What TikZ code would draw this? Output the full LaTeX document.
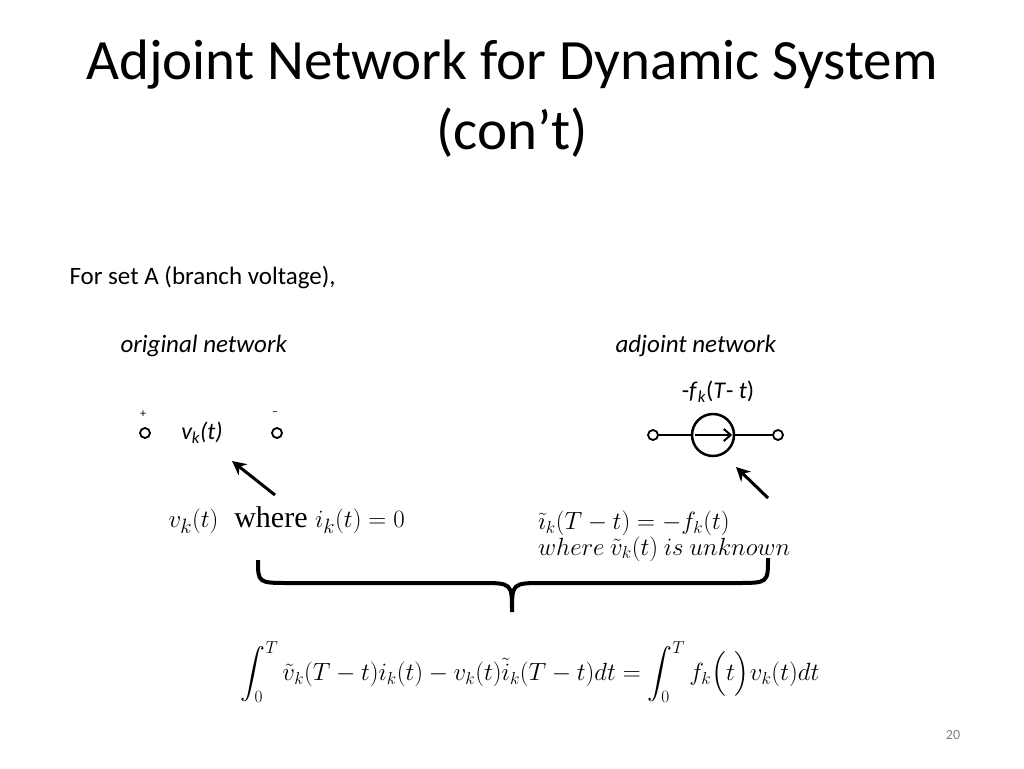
\documentclass[tikz,border=0pt]{standalone}
\usepackage{amsmath}
\usepackage{fontspec}
\usetikzlibrary{arrows.meta}
\setmainfont{Carlito}
\newfontfamily\tms{Liberation Serif}
\begin{document}
\begin{tikzpicture}[x=1pt,y=-1pt,
  term/.style={circle,draw,line width=1.8pt,inner sep=0pt,minimum size=10pt},
  pointer/.style={line width=3pt,-{Stealth[length=14pt,width=14pt]}}]
\useasboundingbox (0,0) rectangle (1024,768);
\node (t1) at (512,65) {\fontsize{57}{60}\selectfont Adjoint Network for Dynamic System};
\node (t2) at (512,133) {\fontsize{57}{60}\selectfont (con’t)};
\node[anchor=west] (s) at (66,278) {\fontsize{25}{28}\selectfont For set A (branch voltage),};
\node[anchor=west] (on) at (117,346) {\fontsize{25}{28}\selectfont\itshape original network};
\node[anchor=west] (an) at (612,346) {\fontsize{25}{28}\selectfont\itshape adjoint network};
% original
\node[term] (a1) at (145,433) {};
\node[term] (a2) at (277,433) {};
\node (p) at (143,414) {\fontsize{12}{13}\selectfont +};
\node (m) at (275,414) {\fontsize{12}{13}\selectfont --};
\node (vk) at (202,433) {\fontsize{24}{27}\selectfont\itshape v\textsubscript{k}(t)};
\coordinate (ar1s) at (275,495);
\coordinate (ar1e) at (232,461);
\draw[pointer] (ar1s) -- (ar1e);
\node[anchor=west] (e1) at (165,520) {\fontsize{30}{33}\selectfont\tms $v_k(t)$\; where $i_k(t)=0$};
% adjoint
\node[term] (b1) at (653,435) {};
\node[term] (b2) at (778,435) {};
\node[circle,draw,line width=2.5pt,minimum size=42pt,inner sep=0pt] (src) at (713,435) {};
\draw[line width=2pt] (b1) -- (src.west);
\draw[line width=2pt] (src.east) -- (b2);
\draw[line width=2pt,-{Straight Barb[length=7pt,width=12pt]}] ([xshift=4pt]src.west) -- ([xshift=-3pt]src.east);
\node (fk) at (718,392) {\fontsize{24}{27}\selectfont -\textit{f}\textsubscript{\textit{k}}(\textit{T}- \textit{t})};
\coordinate (ar2s) at (768,498);
\coordinate (ar2e) at (736,467);
\draw[pointer] (ar2s) -- (ar2e);
\node[anchor=west,align=left,inner sep=0pt] (e2) at (538,536) {\fontsize{25}{29}\selectfont $\tilde{\imath}_k(T-t)=-f_k(t)$\\ \fontsize{25}{29}\selectfont $where\ \tilde{v}_k(t)\ is\ unknown$};
% brace
\draw[line width=4pt] (258,560) .. controls (258,583) .. (290,583) -- (480,583) .. controls (512,583) .. (512,612)
  .. controls (512,583) .. (544,583) -- (736,583) .. controls (768,583) .. (768,558);
\node (eq) at (530,672) {\fontsize{27}{30}\selectfont\tms $\displaystyle\int_0^T \tilde{v}_k(T-t)i_k(t)-v_k(t)\tilde{i}_k(T-t)dt=\int_0^T f_k\Big(t\Big)v_k(t)dt$};
\node (n) at (953,735) {\color{gray}\fontsize{14}{16}\selectfont 20};
\end{tikzpicture}
\end{document}
